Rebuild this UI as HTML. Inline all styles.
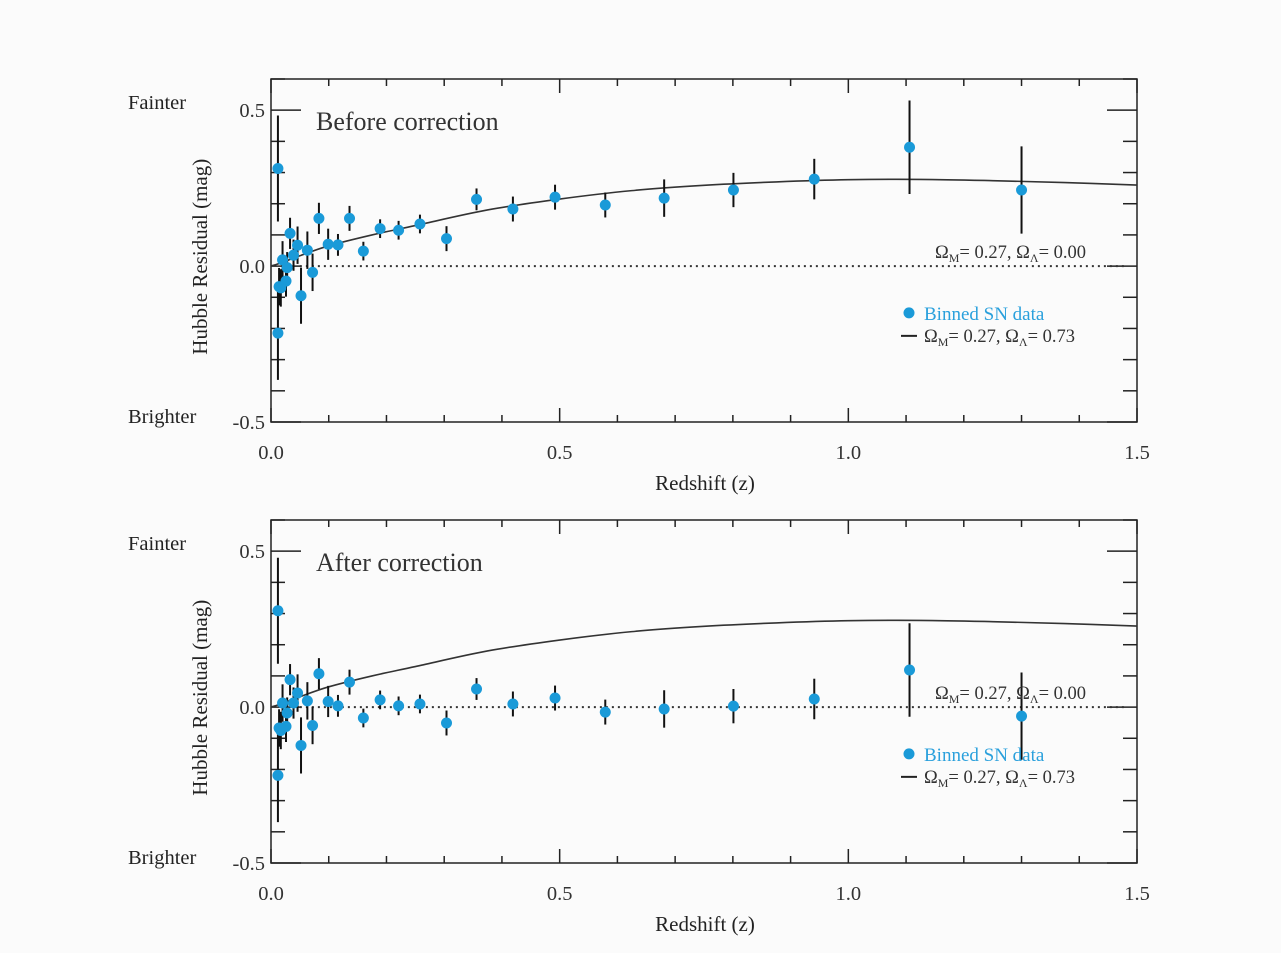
<!DOCTYPE html>
<html><head><meta charset="utf-8"><style>
html,body{margin:0;padding:0;background:#fbfbfb;}
svg{display:block;font-family:"Liberation Serif",serif;}
</style></head><body>
<svg id="svg" width="1281" height="953" viewBox="0 0 1281 953"></svg>
<script>
const zTop=[0.012,0.012,0.014,0.017,0.026,0.02,0.028,0.033,0.039,0.046,0.052,0.063,0.072,0.083,0.099,0.116,0.136,0.16,0.189,0.221,0.258,0.304,0.356,0.419,0.492,0.579,0.681,0.801,0.941,1.106,1.3];
const rTop=[0.313,-0.215,-0.066,-0.07,-0.048,0.02,-0.005,0.105,0.035,0.067,-0.095,0.051,-0.02,0.153,0.07,0.068,0.153,0.048,0.12,0.115,0.135,0.088,0.214,0.183,0.221,0.196,0.218,0.244,0.279,0.381,0.244];
const eTop=[0.17,0.15,0.06,0.06,0.05,0.06,0.05,0.05,0.05,0.06,0.09,0.06,0.06,0.05,0.05,0.035,0.04,0.03,0.03,0.03,0.03,0.04,0.035,0.04,0.04,0.04,0.06,0.055,0.065,0.15,0.14];
const zBot=zTop;
const rBot=[0.309,-0.219,-0.067,-0.075,-0.062,0.013,-0.019,0.088,0.013,0.045,-0.123,0.02,-0.059,0.107,0.018,0.004,0.08,-0.035,0.023,0.004,0.01,-0.051,0.058,0.01,0.029,-0.016,-0.006,0.003,0.026,0.119,-0.029];
const eBot=eTop;
const curveZ=[0,0.02,0.05,0.1,0.175,0.25,0.375,0.5,0.625,0.75,0.875,1.0,1.125,1.25,1.375,1.5];
const curveR=[0,0.012,0.033,0.065,0.1,0.13,0.18,0.215,0.242,0.259,0.27,0.277,0.278,0.274,0.268,0.26];
const xTicks=["0.0","0.5","1.0","1.5"];
const xTickVals=[0,0.5,1.0,1.5];
const yTickVals=[0.5,0.0,-0.5];
const yTickLabels=["0.5","0.0","-0.5"];

const NS="http://www.w3.org/2000/svg";
const svg=document.getElementById('svg');
function mk(tag,attrs,parent){const e=document.createElementNS(NS,tag);for(const k in attrs)e.setAttribute(k,attrs[k]);(parent||svg).appendChild(e);return e;}

function panel(top,title,zs,rs,es,name){
  const L=271,R=1137,T=top,B=top+343;
  const g=mk('g',{});
  
  
  const xs=z=>L+z*(R-L)/1.5;
  const ys=r=>T+(0.6-r)*(B-T)/1.1;
  const fr=mk('rect',{x:L,y:T,width:R-L,height:B-T,fill:'none',stroke:'#222','stroke-width':1.5},g);
  
  
  for(let i=0;i<=15;i++){const v=i/10;const x=xs(v);const len=(i%5==0)?14:7;
    mk('line',{x1:x,x2:x,y1:B,y2:B-len,stroke:'#222','stroke-width':1.5},g);
    mk('line',{x1:x,x2:x,y1:T,y2:T+len,stroke:'#222','stroke-width':1.5},g);}
  for(let i=-5;i<=6;i++){const v=i/10;const y=ys(v);const len=(i%5==0)?30:14;
    mk('line',{x1:L,x2:L+len,y1:y,y2:y,stroke:'#222','stroke-width':1.5},g);
    mk('line',{x1:R,x2:R-len,y1:y,y2:y,stroke:'#222','stroke-width':1.5},g);}
  xTickVals.forEach((v,i)=>{const t=mk('text',{x:xs(v),y:B+37,'text-anchor':'middle','font-size':20.5,fill:'#333'},g);t.textContent=xTicks[i];
    });
  yTickVals.forEach((v,i)=>{const t=mk('text',{x:L-6,y:ys(v)+7,'text-anchor':'end','font-size':20.5,fill:'#333'},g);t.textContent=yTickLabels[i];
    });
  let t=mk('text',{x:128,y:ys(0.5)-1,'font-size':20.5,fill:'#222'},g);t.textContent='Fainter';
  
  t=mk('text',{x:128,y:ys(-0.5)+1,'font-size':20.5,fill:'#222'},g);t.textContent='Brighter';
  
  t=mk('text',{x:0,y:0,'font-size':21,fill:'#222','text-anchor':'middle',transform:`translate(207,${ys(0.03)}) rotate(-90)`},g);t.textContent='Hubble Residual (mag)';
  
  t=mk('text',{x:705,y:B+68,'font-size':21,fill:'#222','text-anchor':'middle'},g);t.textContent='Redshift (z)';
  
  t=mk('text',{x:316,y:T+51,'font-size':26,fill:'#333'},g);t.textContent=title;
  
  const zl=mk('line',{x1:xs(0.05),x2:R-10,y1:ys(0),y2:ys(0),stroke:'#333','stroke-width':2,'stroke-dasharray':'2 4'},g);
  
  const P=curveZ.map((z,i)=>[xs(z),ys(curveR[i])]);
  let d=`M${P[0][0]},${P[0][1]}`;
  for(let i=0;i<P.length-1;i++){const p0=P[Math.max(0,i-1)],p1=P[i],p2=P[i+1],p3=P[Math.min(P.length-1,i+2)];
    d+=` C${p1[0]+(p2[0]-p0[0])/6},${p1[1]+(p2[1]-p0[1])/6} ${p2[0]-(p3[0]-p1[0])/6},${p2[1]-(p3[1]-p1[1])/6} ${p2[0]},${p2[1]}`;}
  const cv=mk('path',{d:d,fill:'none',stroke:'#333','stroke-width':1.6},g);
  
  zs.forEach((z,i)=>{const x=xs(z);
    const eb=mk('line',{x1:x,x2:x,y1:ys(rs[i]+es[i]),y2:ys(rs[i]-es[i]),stroke:'#111','stroke-width':2},g);
    });
  zs.forEach((z,i)=>{const c=mk('circle',{cx:xs(z),cy:ys(rs[i]),r:5.5,fill:'#1a9ad8'},g);
    });
  t=mk('text',{x:935,y:ys(0)-8,'font-size':18.5,fill:'#333'},g);
  t.innerHTML='Ω<tspan font-size="12" dy="4">M</tspan><tspan dy="-4">= 0.27, Ω</tspan><tspan font-size="12" dy="4">Λ</tspan><tspan dy="-4">= 0.00</tspan>';
  
  const ly=ys(-0.15);
  const ld=mk('circle',{cx:909,cy:ly,r:5.5,fill:'#1a9ad8'},g);
  
  t=mk('text',{x:924,y:ly+7,'font-size':19,fill:'#2aa0dc'},g);t.textContent='Binned SN data';
  
  const ll=mk('line',{x1:901,x2:917,y1:ly+23,y2:ly+23,stroke:'#222','stroke-width':2},g);
  
  t=mk('text',{x:924,y:ly+29,'font-size':18.5,fill:'#333'},g);
  t.innerHTML='Ω<tspan font-size="12" dy="4">M</tspan><tspan dy="-4">= 0.27, Ω</tspan><tspan font-size="12" dy="4">Λ</tspan><tspan dy="-4">= 0.73</tspan>';
  
}
panel(79,'Before correction',zTop,rTop,eTop,'top-panel');
panel(520,'After correction',zBot,rBot,eBot,'bottom-panel');
</script>
</body></html>
